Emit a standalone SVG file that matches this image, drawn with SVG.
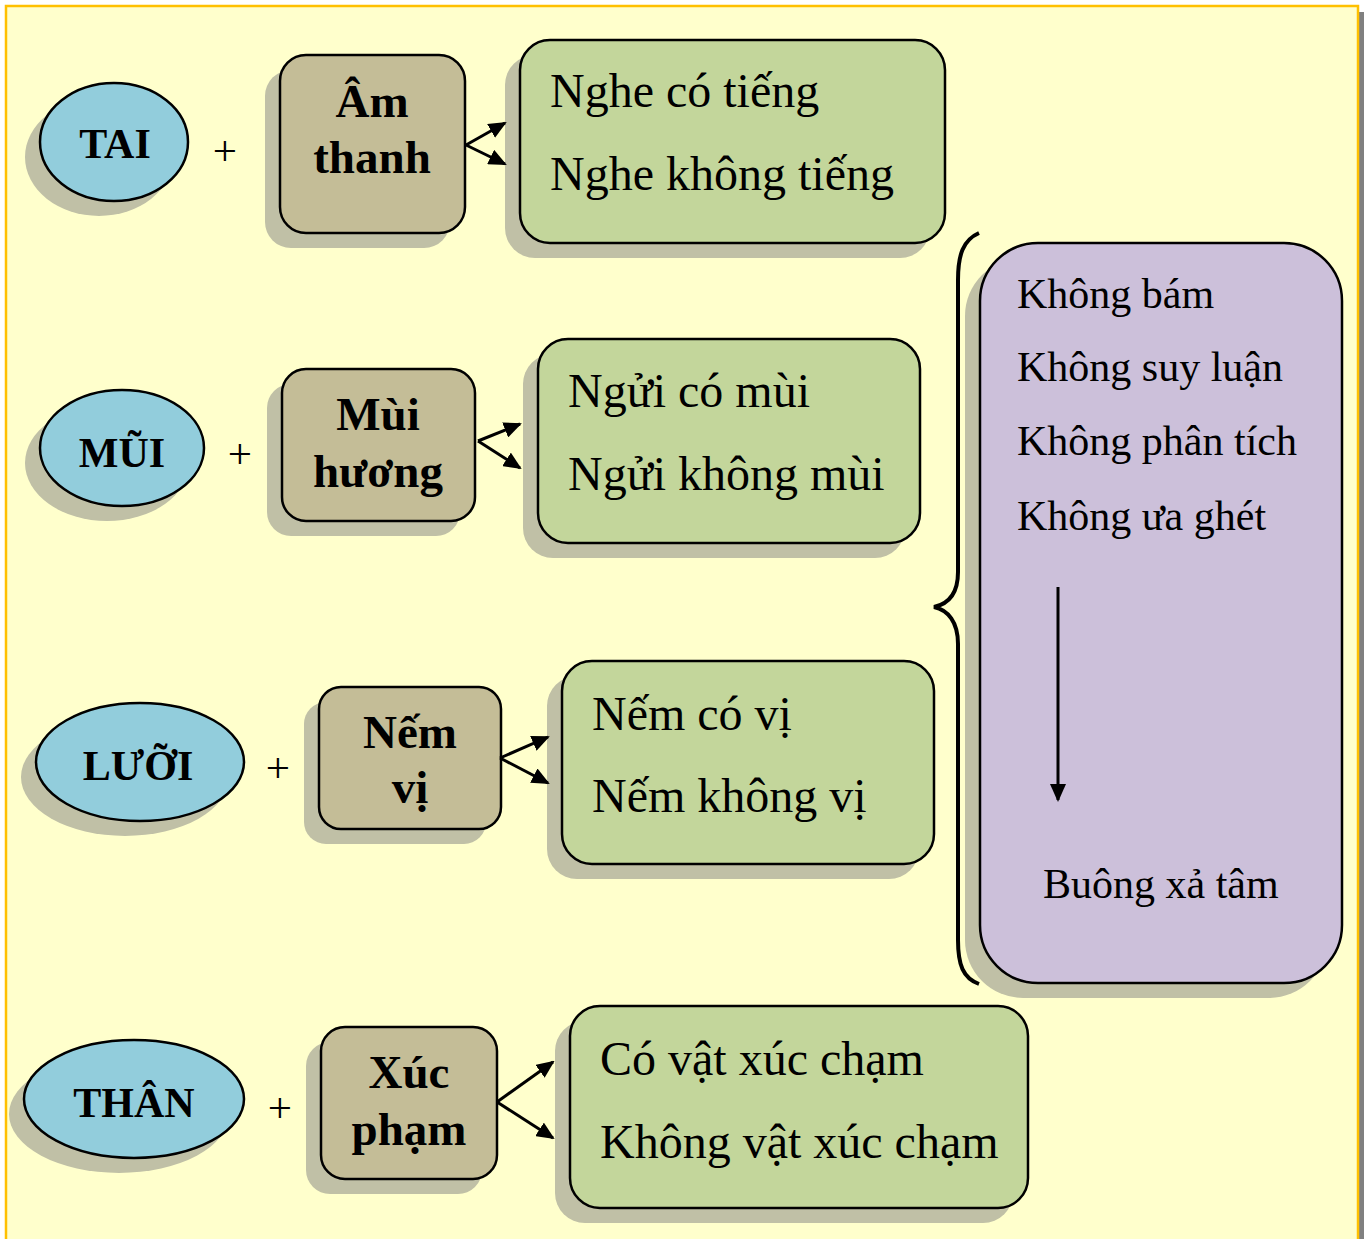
<svg xmlns="http://www.w3.org/2000/svg" width="1364" height="1239" viewBox="0 0 1364 1239">
<defs>
<style>
.sh{fill:#C0C0A6}
.ell{fill:#92CDDC;stroke:#000;stroke-width:2.5}
.tan{fill:#C4BD97;stroke:#000;stroke-width:2.5}
.grn{fill:#C3D69B;stroke:#000;stroke-width:2.5}
.pur{fill:#CCC0DA;stroke:#000;stroke-width:2.5}
.b{font-family:"Liberation Serif","Times New Roman",serif;font-weight:bold;fill:#000}
.r{font-family:"Liberation Serif","Times New Roman",serif;fill:#000}
.con{fill:none;stroke:#000;stroke-width:3;marker-end:url(#ah)}
</style>
<marker id="ah" markerUnits="userSpaceOnUse" markerWidth="18" markerHeight="16" refX="16" refY="8" orient="auto">
<path d="M0,0 L18,8 L0,16 Z" fill="#000"/>
</marker>
</defs>
<rect x="1358" y="12" width="6" height="1227" fill="#808080"/>
<rect x="6" y="6" width="1352" height="1240" fill="#FFFFCC" stroke="#FFC000" stroke-width="2.5"/>

<g id="tai">
<ellipse class="sh" cx="99" cy="157" rx="74" ry="59"/>
<ellipse class="ell" cx="114" cy="142" rx="74" ry="59"/>
<text class="b" x="115" y="158" font-size="42" text-anchor="middle">TAI</text>
</g>
<text class="r" x="225" y="165" font-size="43" text-anchor="middle">+</text>
<g id="amthanh">
<rect class="sh" x="265" y="70" width="185" height="178" rx="26"/>
<rect class="tan" x="280" y="55" width="185" height="178" rx="26"/>
<text class="b" x="372" y="117" font-size="47" text-anchor="middle">Âm</text>
<text class="b" x="372" y="173" font-size="47" text-anchor="middle">thanh</text>
</g>
<g id="nghe">
<rect class="sh" x="505" y="55" width="425" height="203" rx="30"/>
<rect class="grn" x="520" y="40" width="425" height="203" rx="30"/>
<text class="r" x="550" y="107" font-size="48">Nghe có tiếng</text>
<text class="r" x="550" y="190" font-size="48">Nghe không tiếng</text>
</g>

<g id="mui">
<ellipse class="sh" cx="107" cy="463" rx="82" ry="58"/>
<ellipse class="ell" cx="122" cy="448" rx="82" ry="58"/>
<text class="b" x="122" y="467" font-size="42" text-anchor="middle">MŨI</text>
</g>
<text class="r" x="240" y="468" font-size="43" text-anchor="middle">+</text>
<g id="muihuong">
<rect class="sh" x="267" y="384" width="193" height="152" rx="24"/>
<rect class="tan" x="282" y="369" width="193" height="152" rx="24"/>
<text class="b" x="378" y="430" font-size="47" text-anchor="middle">Mùi</text>
<text class="b" x="378" y="487" font-size="47" text-anchor="middle">hương</text>
</g>
<g id="ngui">
<rect class="sh" x="523" y="354" width="382" height="204" rx="30"/>
<rect class="grn" x="538" y="339" width="382" height="204" rx="30"/>
<text class="r" x="568" y="407" font-size="48">Ngửi có mùi</text>
<text class="r" x="568" y="490" font-size="48">Ngửi không mùi</text>
</g>

<g id="luoi">
<ellipse class="sh" cx="125" cy="777" rx="104" ry="59"/>
<ellipse class="ell" cx="140" cy="762" rx="104" ry="59"/>
<text class="b" x="138" y="780" font-size="42" text-anchor="middle">LƯỠI</text>
</g>
<text class="r" x="278" y="782" font-size="43" text-anchor="middle">+</text>
<g id="nemvi">
<rect class="sh" x="304" y="702" width="182" height="142" rx="22"/>
<rect class="tan" x="319" y="687" width="182" height="142" rx="22"/>
<text class="b" x="410" y="748" font-size="47" text-anchor="middle">Nếm</text>
<text class="b" x="410" y="803" font-size="47" text-anchor="middle">vị</text>
</g>
<g id="nem">
<rect class="sh" x="547" y="676" width="372" height="203" rx="30"/>
<rect class="grn" x="562" y="661" width="372" height="203" rx="30"/>
<text class="r" x="592" y="730" font-size="48">Nếm có vị</text>
<text class="r" x="592" y="812" font-size="48">Nếm không vị</text>
</g>

<g id="than">
<ellipse class="sh" cx="119" cy="1114" rx="110" ry="59"/>
<ellipse class="ell" cx="134" cy="1099" rx="110" ry="59"/>
<text class="b" x="134" y="1117" font-size="42" text-anchor="middle">THÂN</text>
</g>
<text class="r" x="280" y="1122" font-size="43" text-anchor="middle">+</text>
<g id="xucpham">
<rect class="sh" x="306" y="1042" width="176" height="152" rx="24"/>
<rect class="tan" x="321" y="1027" width="176" height="152" rx="24"/>
<text class="b" x="409" y="1088" font-size="47" text-anchor="middle">Xúc</text>
<text class="b" x="409" y="1145" font-size="47" text-anchor="middle">phạm</text>
</g>
<g id="xuc">
<rect class="sh" x="555" y="1021" width="458" height="202" rx="30"/>
<rect class="grn" x="570" y="1006" width="458" height="202" rx="30"/>
<text class="r" x="600" y="1075" font-size="48">Có vật xúc chạm</text>
<text class="r" x="600" y="1158" font-size="48">Không vật xúc chạm</text>
</g>

<g id="buongxa">
<rect class="sh" x="965" y="258" width="362" height="740" rx="58"/>
<rect class="pur" x="980" y="243" width="362" height="740" rx="58"/>
<text class="r" x="1017" y="308" font-size="42">Không bám</text>
<text class="r" x="1017" y="381" font-size="42">Không suy luận</text>
<text class="r" x="1017" y="455" font-size="42">Không phân tích</text>
<text class="r" x="1017" y="530" font-size="42">Không ưa ghét</text>
<text class="r" x="1043" y="898" font-size="42">Buông xả tâm</text>
</g>

<g id="connectors">
<path class="con" d="M466,145 L505,123"/>
<path class="con" d="M466,145 L505,164"/>
<path class="con" d="M478,441 L520,424"/>
<path class="con" d="M478,441 L520,468"/>
<path class="con" d="M500,758 L548,737"/>
<path class="con" d="M500,758 L548,783"/>
<path class="con" d="M497,1102 L553,1062"/>
<path class="con" d="M497,1102 L553,1138"/>
<path class="con" d="M1058,587 L1058,800"/>
<path d="M979,233 C963,240 958,255 958,280 L958,572 C958,594 948,604 934,607 C948,610 958,622 958,644 L958,940 C958,965 963,978 979,984" fill="none" stroke="#000" stroke-width="4"/>
</g>
</svg>
